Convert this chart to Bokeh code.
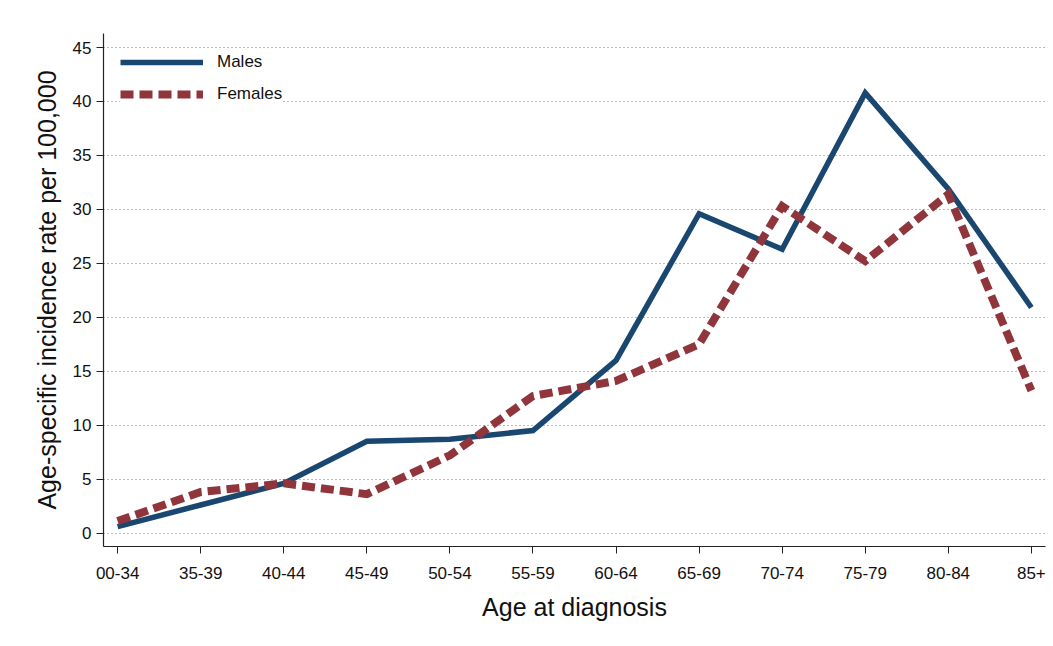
from bokeh.plotting import figure
from bokeh.models import FixedTicker, Legend, LegendItem
from bokeh.embed import file_html
from bokeh.resources import INLINE

age_groups = ["00-34", "35-39", "40-44", "45-49", "50-54", "55-59",
              "60-64", "65-69", "70-74", "75-79", "80-84", "85+"]
males = [0.6, 2.6, 4.6, 8.5, 8.7, 9.5, 16.0, 29.6, 26.3, 40.8, 31.9, 20.9]
females = [1.1, 3.8, 4.6, 3.6, 7.2, 12.7, 14.1, 17.5, 30.3, 25.2, 31.4, 13.2]
y_ticks = [0, 5, 10, 15, 20, 25, 30, 35, 40, 45]

FONT = "Liberation Sans"
x = list(range(len(age_groups)))

p = figure(width=1048, height=630, output_backend="svg", toolbar_location=None,
           x_range=(-0.17, len(age_groups) - 1 + 0.17), y_range=(-1.25, 46.3),
           min_border_left=103, min_border_top=33, min_border_right=3,
           min_border_bottom=84)
p.outline_line_color = None
p.background_fill_color = "white"
p.border_fill_color = "white"

r_m = p.line(x, males, line_color="#1a476f", line_width=5.5, line_join="miter")
r_f = p.line(x, females, line_color="#90353b", line_width=8, line_dash="13 6",
             line_join="miter")

# axes
p.xaxis.ticker = FixedTicker(ticks=x)
p.xaxis.major_label_overrides = {i: lab for i, lab in zip(x, age_groups)}
p.yaxis.ticker = FixedTicker(ticks=y_ticks)
for ax in (p.xaxis[0], p.yaxis[0]):
    ax.axis_line_color = "#222222"
    ax.axis_line_width = 1.2
    ax.major_tick_line_color = "#222222"
    ax.major_tick_out = 7
    ax.major_tick_in = 0
    ax.minor_tick_line_color = None
    ax.major_label_text_font = FONT
    ax.major_label_text_font_size = "17px"
    ax.major_label_text_color = "#111111"
    ax.axis_label_text_font = FONT
    ax.axis_label_text_font_size = "25px"
    ax.axis_label_text_font_style = "normal"
    ax.axis_label_text_color = "#111111"
p.xaxis.major_label_standoff = 13
p.yaxis.major_label_standoff = 5
p.yaxis.major_label_orientation = "horizontal"
p.xaxis.axis_label = "Age at diagnosis"
p.yaxis.axis_label = "Age-specific incidence rate per 100,000"
p.xaxis.axis_label_standoff = 11
p.yaxis.axis_label_standoff = 9

p.xgrid.grid_line_color = None
p.ygrid.ticker = FixedTicker(ticks=y_ticks)
p.ygrid.grid_line_color = "#777777"
p.ygrid.grid_line_dash = "1 3"
p.ygrid.grid_line_width = 1

legend = Legend(items=[LegendItem(label="Males", renderers=[r_m]),
                       LegendItem(label="Females", renderers=[r_f])],
                location=(17, 439))
legend.margin = 0
legend.padding = 12
legend.glyph_width = 83
legend.glyph_height = 26
legend.label_height = 26
legend.label_standoff = 14
legend.spacing = 6
legend.label_text_font = FONT
legend.label_text_font_size = "17px"
legend.label_text_color = "#111111"
legend.border_line_color = None
legend.background_fill_color = "white"
legend.background_fill_alpha = 1
p.add_layout(legend)

open("out.html", "w").write(file_html(p, INLINE))
